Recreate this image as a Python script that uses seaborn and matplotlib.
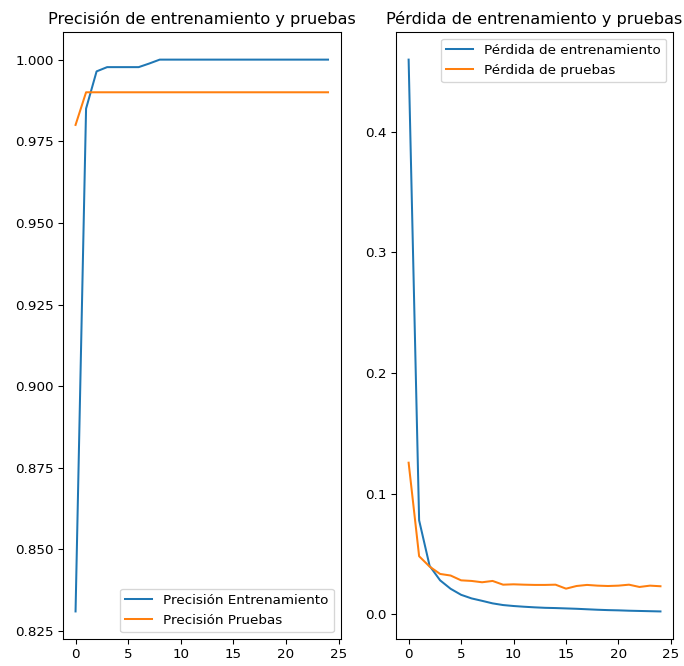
import numpy as np
import pandas as pd
import matplotlib
matplotlib.use("Agg")
import matplotlib.pyplot as plt
import seaborn as sns

epochs = list(range(25))
train_acc = [0.831, 0.985, 0.9964, 0.9977, 0.9977, 0.9977, 0.9977, 0.9988] + [1.0] * 17
test_acc = [0.980] + [0.990] * 24
train_loss = [0.460, 0.0778, 0.040, 0.028, 0.021, 0.016, 0.013, 0.011, 0.0089, 0.0075,
              0.0067, 0.0061, 0.0056, 0.0052, 0.0050, 0.0047, 0.0044, 0.0040, 0.0036,
              0.0033, 0.0031, 0.0028, 0.0026, 0.0024, 0.0022]
test_loss = [0.1256, 0.048, 0.0394, 0.0333, 0.032, 0.028, 0.0275, 0.0264, 0.0275, 0.0244,
             0.0247, 0.0244, 0.0242, 0.0242, 0.0244, 0.0211, 0.0233, 0.0242, 0.0236,
             0.0233, 0.0236, 0.0244, 0.0225, 0.0236, 0.0231]

DPI = 97
fig = plt.figure(figsize=(684 / DPI, 666 / DPI), dpi=DPI)
ax1 = fig.add_axes([0.092, 0.0405, 0.406, 0.9114])
ax2 = fig.add_axes([0.579, 0.0405, 0.405, 0.9114])

sns.lineplot(x=epochs, y=train_acc, ax=ax1, label="Precisión Entrenamiento", color="#1f77b4")
sns.lineplot(x=epochs, y=test_acc, ax=ax1, label="Precisión Pruebas", color="#ff7f0e")
ax1.legend(loc="lower right")
ax1.set_title("Precisión de entrenamiento y pruebas")
ax1.set_xticks([0, 5, 10, 15, 20, 25])

sns.lineplot(x=epochs, y=train_loss, ax=ax2, label="Pérdida de entrenamiento", color="#1f77b4")
sns.lineplot(x=epochs, y=test_loss, ax=ax2, label="Pérdida de pruebas", color="#ff7f0e")
ax2.legend(loc="upper right")
ax2.set_title("Pérdida de entrenamiento y pruebas")
ax2.set_xticks([0, 5, 10, 15, 20, 25])

fig.savefig("out.png", dpi=DPI)
